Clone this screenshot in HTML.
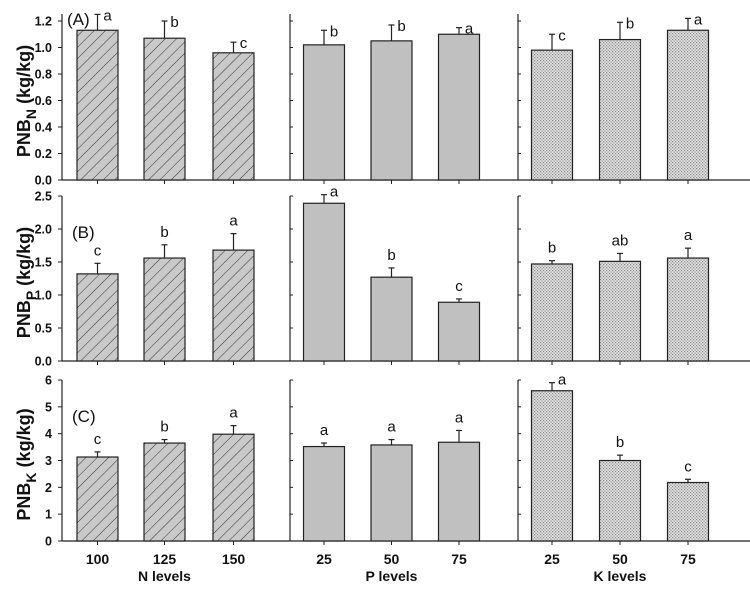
<!DOCTYPE html>
<html><head><meta charset="utf-8"><style>
html,body{margin:0;padding:0;background:#fff;}
svg{display:block;font-family:"Liberation Sans",Arial,sans-serif;}
</style></head><body>
<svg id="chart" width="750" height="589" viewBox="0 0 750 589">
<defs>
<pattern id="hatch" width="8" height="8" patternUnits="userSpaceOnUse" patternTransform="rotate(45)">
<rect width="8" height="8" fill="#c9c9c9"/><line x1="0" y1="0" x2="0" y2="8" stroke="#333" stroke-width="1"/>
</pattern>
<pattern id="dots" width="3" height="3" patternUnits="userSpaceOnUse">
<rect width="3" height="3" fill="#e2e2e2"/><rect width="1.2" height="1.2" fill="#8a8a8a"/><rect x="1.5" y="1.5" width="1.2" height="1.2" fill="#8a8a8a"/>
</pattern>
</defs>
</svg>
<script>
// data
const groups = ["N levels", "P levels", "K levels"];
const levelsN = ["100", "125", "150"];
const levelsP = ["25", "50", "75"];
const levelsK = ["25", "50", "75"];
const rowLabels = ["(A)", "(B)", "(C)"];
const yMax = [1.2, 2.5, 6];
const yTicksA = [0, 0.2, 0.4, 0.6, 0.8, 1.0, 1.2];
const yTicksB = [0, 0.5, 1.0, 1.5, 2.0, 2.5];
const yTicksC = [0, 1, 2, 3, 4, 5, 6];
const tickFmt = [1, 1, 0];
// Row A values (mean, error top) for N, P, K
const aN = [1.13, 1.07, 0.96], aNerr = [1.25, 1.20, 1.04], aNsig = ["a", "b", "c"];
const aP = [1.02, 1.05, 1.10], aPerr = [1.13, 1.17, 1.15], aPsig = ["b", "b", "a"];
const aK = [0.98, 1.06, 1.13], aKerr = [1.10, 1.19, 1.22], aKsig = ["c", "b", "a"];
// Row B
const bN = [1.32, 1.56, 1.68], bNerr = [1.48, 1.76, 1.93], bNsig = ["c", "b", "a"];
const bP = [2.39, 1.27, 0.89], bPerr = [2.52, 1.41, 0.94], bPsig = ["a", "b", "c"];
const bK = [1.47, 1.51, 1.56], bKerr = [1.52, 1.63, 1.71], bKsig = ["b", "ab", "a"];
// Row C
const cN = [3.13, 3.65, 3.98], cNerr = [3.32, 3.78, 4.30], cNsig = ["c", "b", "a"];
const cP = [3.52, 3.58, 3.68], cPerr = [3.65, 3.78, 4.12], cPsig = ["a", "a", "a"];
const cK = [5.60, 3.00, 2.18], cKerr = [5.90, 3.20, 2.30], cKsig = ["a", "b", "c"];

const svg = document.getElementById('chart');
const NS = 'http://www.w3.org/2000/svg';
function mk(tag, attrs, parent){
  const e = document.createElementNS(NS, tag);
  for (const k in attrs) e.setAttribute(k, attrs[k]);
  (parent||svg).appendChild(e); return e;
}
const rows = [
  {top:14, zero:180, ticks:yTicksA, data:[[aN,aNerr,aNsig],[aP,aPerr,aPsig],[aK,aKerr,aKsig]], ylab:["PNB","N"]},
  {top:196, zero:361, ticks:yTicksB, data:[[bN,bNerr,bNsig],[bP,bPerr,bPsig],[bK,bKerr,bKsig]], ylab:["PNB","P"]},
  {top:380, zero:541, ticks:yTicksC, data:[[cN,cNerr,cNsig],[cP,cPerr,cPsig],[cK,cKerr,cKsig]], ylab:["PNB","K"]}
];
const panelX = [62, 290, 518];
const centers = [[97.5,164.5,233.5],[324,391.5,459],[552,620,688]];
const fills = ['url(#hatch)', '#c0c0c0', 'url(#dots)'];
const barW = 41;
const levels = [levelsN, levelsP, levelsK];

rows.forEach((r, ri) => {
  const tickTop = ri===0 ? 21 : r.top;
  const y = v => r.zero - v/yMax[ri]*(r.zero - tickTop);
  const g = mk('g', {});
  
  
  const bl = mk('line', {x1:62, x2:750, y1:r.zero, y2:r.zero, stroke:'#222', 'stroke-width':1.3}, g);
  
  
  panelX.forEach((px, pi) => {
    const ax = mk('line', {x1:px, x2:px, y1:r.top, y2:r.zero, stroke:'#222', 'stroke-width':1.2}, g);
    
    
    r.ticks.forEach(t => {
      const ty = y(t);
      if (pi===0) {
        mk('line', {x1:px-4, x2:px, y1:ty, y2:ty, stroke:'#222'}, g);
        const tl = mk('text', {x:52, y:ty+4.5, 'text-anchor':'end', 'font-size':12.5, 'font-weight':'bold', fill:'#111'}, g);
        tl.textContent = t.toFixed(tickFmt[ri]);
        
        
      } else {
        mk('line', {x1:px, x2:px+3, y1:ty, y2:ty, stroke:'#222'}, g);
      }
    });
    const [vals, errs, sig] = r.data[pi];
    vals.forEach((v, bi) => {
      const cx = centers[pi][bi];
      const bar = mk('rect', {x:cx-barW/2, y:y(v), width:barW, height:r.zero-y(v), fill:fills[pi], stroke:'#222', 'stroke-width':1.2}, g);
      
      
      const ey = y(errs[bi]);
      mk('line', {x1:cx, x2:cx, y1:ey, y2:y(v), stroke:'#222', 'stroke-width':1.2}, g);
      mk('line', {x1:cx-3, x2:cx+3, y1:ey, y2:ey, stroke:'#222', 'stroke-width':1.2}, g);
      mk('line', {x1:cx, x2:cx, y1:r.zero, y2:r.zero+4, stroke:'#222'}, g);
      let ly = ey - 8, lx = cx;
      if (ri===0) { lx = cx + 10; ly = ey + 6; }
      else if (ly < r.top + 6) { lx = cx + 10; ly = ey + 2; }
      const st = mk('text', {x:lx, y:ly, 'text-anchor':'middle', 'font-size':15, fill:'#111'}, g);
      st.textContent = sig[bi];
      
      
    });
  });
  const pl = mk('text', {x:ri===0?67:72, y:ri===0?25:r.top+42, 'font-size':17, fill:'#111'}, g);
  pl.textContent = rowLabels[ri];
  
  
  const cy = (r.top + r.zero)/2 + 4;
  const yl = mk('text', {x:0, y:0, transform:`translate(30,${cy}) rotate(-90)`, 'text-anchor':'middle', 'font-size':18, 'font-weight':'bold', fill:'#111'}, g);
  
  
  const t1 = mk('tspan', {}, yl); t1.textContent = r.ylab[0];
  const t2 = mk('tspan', {dy:6, 'font-size':14}, yl); t2.textContent = r.ylab[1];
  const t3 = mk('tspan', {dy:-6}, yl); t3.textContent = ' (kg/kg)';
});
levels.forEach((lv, pi) => {
  lv.forEach((l, bi) => {
    const t = mk('text', {x:centers[pi][bi], y:564, 'text-anchor':'middle', 'font-size':14, 'font-weight':'bold', fill:'#111'});
    t.textContent = l;
    
    
  });
  const gt = mk('text', {x:centers[pi][1], y:581, 'text-anchor':'middle', 'font-size':14, 'font-weight':'bold', fill:'#111'});
  gt.textContent = groups[pi];
  
  
});
</script>
</body></html>
